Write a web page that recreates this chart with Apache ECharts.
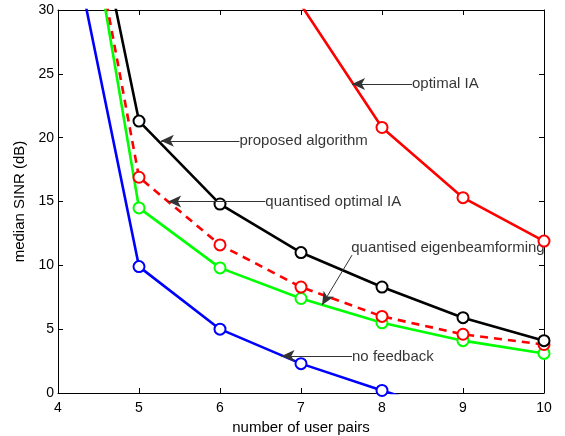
<!DOCTYPE html>
<html>
<head>
<meta charset="utf-8">
<script src="https://cdn.jsdelivr.net/npm/echarts@6/dist/echarts.min.js"></script>
<style>
  html, body { margin: 0; padding: 0; background: #fff; }
  #main { width: 565px; height: 436px; }
</style>
</head>
<body>
<div id="main"></div>
<script>
// 数据
var userPairs = [4, 5, 6, 7, 8, 9, 10];
var proposed = [52, 21.3, 14.8, 11.0, 8.3, 5.9, 4.1];
var quantOptIA = [51, 16.9, 11.6, 8.3, 6.0, 4.6, 3.8];
var quantEigen = [52, 14.5, 9.8, 7.4, 5.5, 4.1, 3.1];
var noFeedback = [41, 9.9, 5.0, 2.3, 0.2, -1.8, -3.6];
var optimalIA = [null, null, null, 30.4, 20.8, 15.3, 11.9];

// 注释: 箭头起点(尖) -> 终点, 文字位置
var arrows = [
  [[7.63, 24.2], [8.37, 24.2]],
  [[5.27, 19.75], [6.24, 19.75]],
  [[5.36, 15.0], [6.56, 15.0]],
  [[7.26, 6.9], [7.63, 10.8]],
  [[6.76, 2.9], [7.63, 2.9]]
];
var notes = [
  [8.37, 24.2, 'optimal IA'],
  [6.24, 19.75, 'proposed algorithm'],
  [6.56, 15.0, 'quantised optimal IA'],
  [7.62, 11.4, 'quantised eigenbeamforming'],
  [7.63, 2.85, 'no feedback']
];

function pairs(vals) {
  return userPairs.map(function (x, i) { return [x, vals[i]]; });
}

var font = 'Liberation Sans, Arial, Helvetica, sans-serif';

function lineSeries(name, vals, color, dashed) {
  return {
    name: name,
    type: 'line',
    data: pairs(vals),
    clip: true,
    symbol: 'emptyCircle',
    symbolSize: 11,
    showSymbol: true,
    lineStyle: { color: color, width: 2.6, type: dashed ? [8, 6] : 'solid' },
    itemStyle: { color: color, borderColor: color, borderWidth: 2.2 },
    animation: false,
    silent: true
  };
}

var myChart = echarts.init(document.getElementById('main'));

var axisCommon = {
  axisLine: { onZero: false, lineStyle: { color: '#000', width: 1 } },
  axisTick: { inside: true, length: 5, lineStyle: { color: '#000' } },
  splitLine: { show: false }
};

var option = {
  backgroundColor: '#fff',
  textStyle: { fontFamily: font },
  grid: { left: 58, right: 21, top: 10, bottom: 43, outerBoundsMode: 'none' },
  xAxis: [
    Object.assign({
      type: 'value', min: 4, max: 10, interval: 1, position: 'bottom',
      name: 'number of user pairs', nameLocation: 'middle', nameGap: 22,
      nameTextStyle: { color: '#000', fontSize: 15, fontFamily: font },
      axisLabel: { color: '#000', fontSize: 14, margin: 8, fontFamily: font }
    }, axisCommon),
    Object.assign({
      type: 'value', min: 4, max: 10, interval: 1, position: 'top',
      axisLabel: { show: false }
    }, axisCommon)
  ],
  yAxis: [
    Object.assign({
      type: 'value', min: 0, max: 30, interval: 5, position: 'left',
      name: 'median SINR (dB)', nameLocation: 'middle', nameGap: 29,
      nameTextStyle: { color: '#000', fontSize: 15, fontFamily: font },
      axisLabel: { color: '#000', fontSize: 14, margin: 4, fontFamily: font }
    }, axisCommon),
    Object.assign({
      type: 'value', min: 0, max: 30, interval: 5, position: 'right',
      axisLabel: { show: false }
    }, axisCommon)
  ],
  series: [
    lineSeries('no feedback', noFeedback, '#0000ff', false),
    lineSeries('quantised eigenbeamforming', quantEigen, '#00ff00', false),
    lineSeries('quantised optimal IA', quantOptIA, '#ff0000', true),
    lineSeries('proposed algorithm', proposed, '#000000', false),
    lineSeries('optimal IA', optimalIA, '#ff0000', false),
    {
      type: 'scatter',
      data: notes,
      symbolSize: 0,
      silent: true,
      animation: false,
      label: {
        show: true,
        position: 'right',
        distance: 0,
        color: '#000',
        fontSize: 15,
        fontFamily: font,
        formatter: function (p) { return p.value[2]; }
      },
      markLine: {
        silent: true,
        animation: false,
        symbol: ['arrow', 'none'],
        symbolSize: [9, 13],
        label: { show: false },
        lineStyle: { color: '#333', width: 1, type: 'solid' },
        itemStyle: { color: '#000' },
        data: arrows.map(function (a) {
          return [{ coord: a[0] }, { coord: a[1] }];
        })
      }
    }
  ]
};

myChart.setOption(option);
</script>
</body>
</html>
